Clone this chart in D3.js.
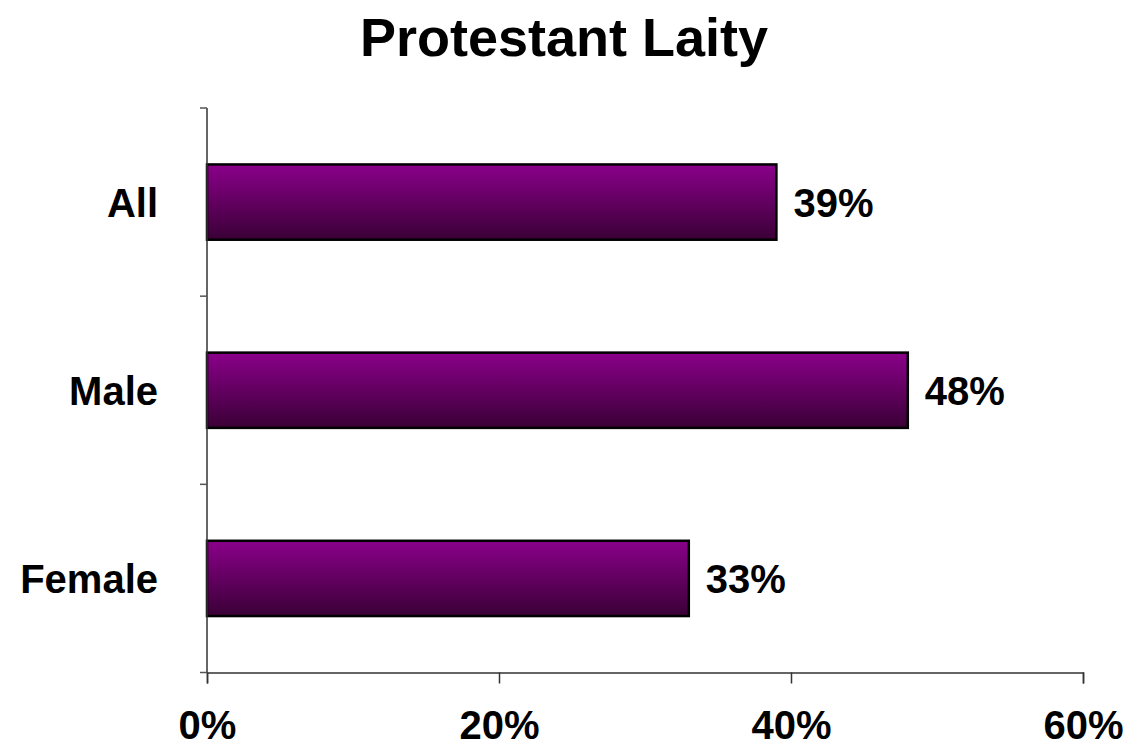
<!DOCTYPE html>
<html><head><meta charset="utf-8">
<script src="https://cdn.jsdelivr.net/npm/d3@7"></script>
<style>body{margin:0;background:#fff;}svg{display:block;font-family:"Liberation Sans",Arial,sans-serif;}</style>
</head><body>
<svg id="c" width="1128" height="748"></svg>
<script>
const categories = ["All", "Male", "Female"];
const values = [39, 48, 33];
const xTicks = [0, 20, 40, 60];
const title = "Protestant Laity";

const svg = d3.select("#c");
const m = {left: 207, right: 1083, top: 108, bottom: 672.5};
const x = d3.scaleLinear().domain([0, 60]).range([m.left, m.right]);
const y = d3.scaleBand().domain(categories).range([m.top, m.bottom]).paddingInner(0.6).paddingOuter(0.3);

const defs = svg.append("defs");
const g = defs.append("linearGradient").attr("id", "grad").attr("x1", 0).attr("y1", 0).attr("x2", 0).attr("y2", 1);
g.append("stop").attr("offset", "0%").attr("stop-color", "#8a008a");
g.append("stop").attr("offset", "100%").attr("stop-color", "#3a0036");

svg.append("text").attr("x", 564).attr("y", 56).attr("text-anchor", "middle")
  .attr("font-size", 54).attr("font-weight", "bold").text(title);

// bars
svg.selectAll("rect.bar").data(values).enter().append("rect")
  .attr("class", "bar")
  .attr("x", x(0))
  .attr("y", (d, i) => y(categories[i]))
  .attr("width", d => x(d) - x(0))
  .attr("height", y.bandwidth())
  .attr("fill", "url(#grad)")
  .attr("stroke", "#000").attr("stroke-width", 2.5);

// value labels
svg.selectAll("text.val").data(values).enter().append("text")
  .attr("class", "val")
  .attr("x", d => x(d) + 17)
  .attr("y", (d, i) => y(categories[i]) + y.bandwidth() / 2 + 15)
  .attr("font-size", 40).attr("font-weight", "bold")
  .text(d => d + "%");

// y axis
const yAxisScale = d3.scaleBand().domain(categories).range([m.top, m.bottom]);
svg.append("line").attr("x1", m.left).attr("x2", m.left).attr("y1", m.top).attr("y2", m.bottom)
  .attr("stroke", "#333").attr("stroke-width", 1.5);
const yTickPos = [m.top].concat(categories.map(c => yAxisScale(c) + yAxisScale.bandwidth()));
svg.selectAll("line.yt").data(yTickPos).enter().append("line")
  .attr("x1", m.left - 7).attr("x2", m.left).attr("y1", d => d).attr("y2", d => d)
  .attr("stroke", "#555").attr("stroke-width", 1.5);
svg.selectAll("text.cat").data(categories).enter().append("text")
  .attr("x", 158).attr("y", c => y(c) + y.bandwidth() / 2 + 15)
  .attr("text-anchor", "end").attr("font-size", 40).attr("font-weight", "bold")
  .text(c => c);

// x axis
const xa = svg.append("g").attr("transform", `translate(0,${m.bottom})`)
  .call(d3.axisBottom(x).tickValues(xTicks).tickSize(11).tickFormat(d => d + "%"));
xa.select(".domain").attr("stroke", "#333").attr("stroke-width", 1.5);
xa.selectAll(".tick line").attr("stroke", "#333").attr("stroke-width", 1.5);
xa.selectAll(".tick text").attr("font-size", 40).attr("font-weight", "bold")
  .attr("font-family", "Liberation Sans, Arial, sans-serif").attr("fill", "#000").attr("y", 66).attr("dy", 0);
</script>
</body></html>
